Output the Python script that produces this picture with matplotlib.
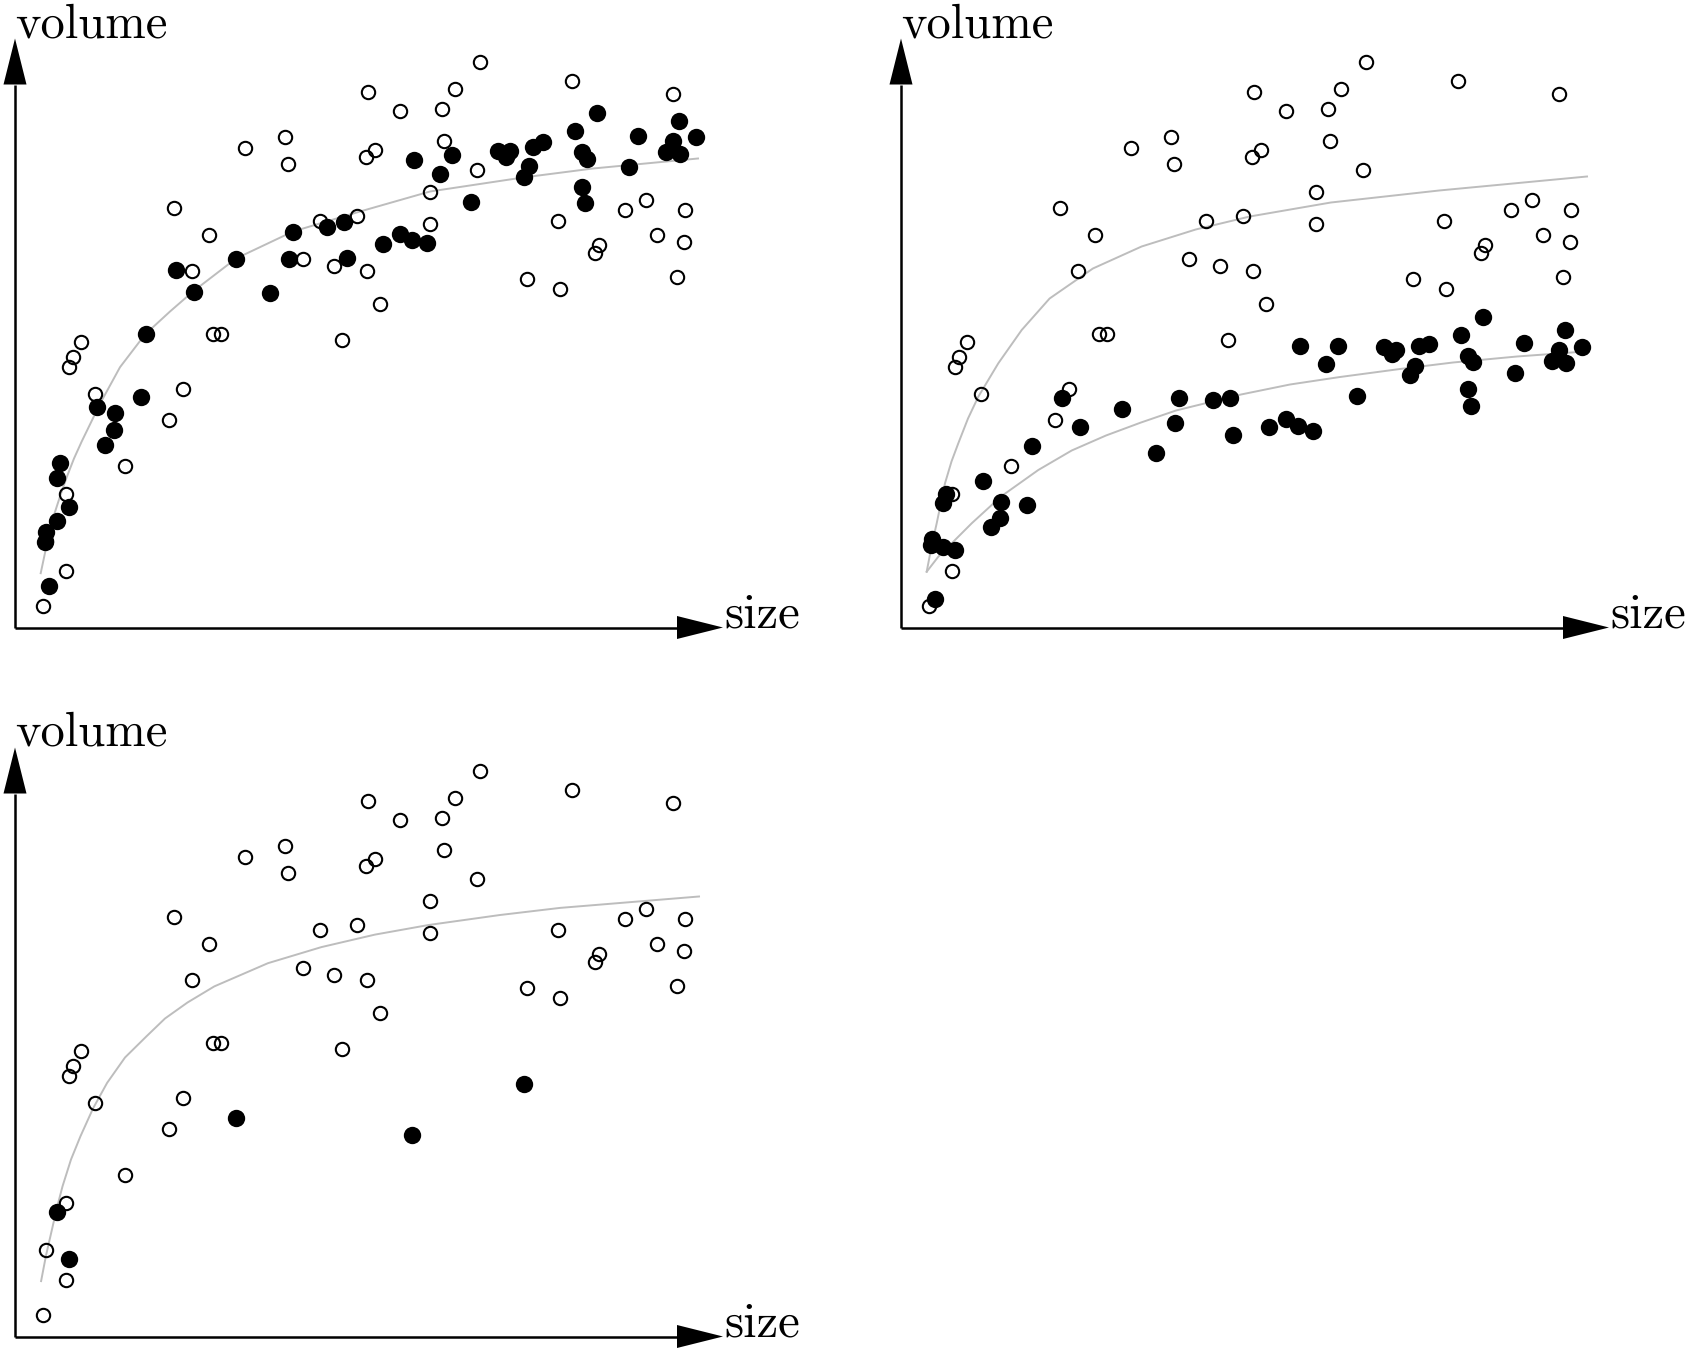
"""Three scatter panels of volume against size: open and filled samples with grey fitted curves."""
import matplotlib
matplotlib.use("Agg")
import matplotlib.pyplot as plt
from matplotlib.patches import Polygon

FIG_W, FIG_H = 1688, 1350          # pixels at dpi 100
X_LEN, Y_LEN = 708, 589            # axis lengths (data units == pixels)
HEAD_LEN, HEAD_W = 46, 23
FONT = "cmr10"
FS = 35
CURVE_COLOR = "#bdbdbd"

# panel origins, pixels from the top-left corner of the figure
ORIGINS = {"top_left": (15, 627.5), "top_right": (901, 627.5), "bottom_left": (15, 1336.5)}

# open circles (same in every panel)
open_size = [27.5, 50.6, 50.6, 109.8, 153.7, 167.8, 80, 54, 57.8, 65.8, 197.5, 205.7,
             326.7, 158.8, 194.3, 177.3, 230, 270, 273, 305, 288, 319, 341.5, 352.5,
             384.5, 350.5, 359.5, 351.5, 365.3, 414.8, 414.8, 426.5, 440, 428.5, 464.7,
             461.7, 512, 543, 545, 557, 580, 584, 609.5, 630.5, 641.5, 658.3, 661.5,
             668.5, 670, 31.4]
open_volume = [21.5, 57, 133.5, 161.5, 207.5, 238.5, 233.5, 261, 270.5, 285.5, 294, 294,
               287.5, 420, 392.5, 356.5, 480, 490.7, 463.7, 407, 368.5, 361.5, 411.5, 535.2,
               517, 471, 478, 356.7, 323.5, 403.7, 435.7, 519, 539, 487, 566,
               457.7, 349, 406.7, 338.7, 547, 375, 383, 417.5, 427.5, 392.7, 534, 350.5,
               386, 417.5, 86.5]

# filled circles: shared sizes, two sets of volumes
filled_size = [33.7, 30.4, 31, 41.5, 53.8, 41.5, 44.8, 81.8, 100.4, 98.8, 89.8, 125.8,
               131, 161.2, 179, 221.2, 255.2, 278.4, 273.5, 311.5, 328.8, 332, 367.5, 385.3,
               397, 412.3, 398.5, 424.8, 437, 455.5, 483.2, 491.3, 495, 508.5, 514.3, 517.7,
               528.2, 560.3, 567, 571.5, 567, 570, 581.8, 613.7, 623.2, 651.3, 658.2, 665.4,
               664.3, 681]
filled_volume_high = [41.5, 85.5, 96, 107, 121, 150, 164.5, 221, 214.7, 198, 182.5, 230.5,
                      293.7, 357.7, 335.5, 368.2, 334.5, 395.5, 368.2, 400.5, 405.5, 370, 383.5,
                      393.7, 387.5, 384.7, 467.7, 453.5, 473, 426, 477, 470.5, 477, 450.7,
                      461.5, 480.8, 485.5, 496.2, 475.3, 468.7, 441, 424.8, 515, 461, 492,
                      476, 486.7, 474, 507, 491]
filled_volume_low = [28.5, 82.2, 88.2, 80.8, 77.5, 124.2, 133.5, 146.8, 125.2, 109.2, 100.8,
                     122.5, 181.8, 229.8, 200.8, 218.8, 174.5, 229.8, 204.5, 227.8, 229.8,
                     192.5, 200.8, 208.8, 201.5, 196.5, 281.5, 263.8, 281.5, 231.5, 280.2,
                     273.2, 277.5, 252.2, 261.8, 281.8, 283.5, 292.5, 271.5, 265.5, 238.2,
                     221.8, 310.8, 254.5, 284.8, 266.8, 277.5, 264.2, 297.5, 280.5]
# the few filled points kept in the bottom panel (indices into the low set)
kept_idx = [5, 4, 15, 24, 33]

# fitted curves
fit_all_size = [25.7, 32, 38.3, 45, 51.7, 59, 66.7, 85, 105, 130, 155, 178, 221, 278, 345,
                415, 508, 578, 683]
fit_all_volume = [54.3, 84, 110.3, 131, 150.3, 169, 186, 223.7, 260.3, 293, 316, 336, 369,
                  396, 416, 436, 450, 459, 469]
fit_open_tr_size = [25.7, 30.5, 35.7, 44, 50.5, 57.3, 67, 77.3, 97.3, 120.7, 148.6, 191.9,
                    240.6, 294.7, 348.8, 429.9, 538.1, 686]
fit_open_tr_volume = [55.8, 81, 104.2, 144.2, 166, 184.2, 209, 230.8, 264.2, 297.5, 329, 359,
                      381, 398, 411, 425, 437, 451]
fit_low_size = [25.7, 37.3, 50.7, 70.7, 100, 137.3, 170.7, 205, 240, 275, 340, 389, 439,
                499, 552, 616, 684]
fit_low_volume = [55.8, 70.8, 84.2, 104.2, 131, 157.5, 177, 192, 205, 217, 233, 243, 250.5,
                  258.5, 265, 271, 276]
fit_bl_size = [26.1, 31, 36.5, 42, 47.5, 56, 65.4, 78, 92.1, 110, 131.4, 150, 172.5, 199.3,
               252.9, 306.4, 360, 413.6, 485, 545, 684]
fit_bl_volume = [55.4, 81, 105, 129, 150.1, 177, 200.1, 228, 253.6, 279, 300.1, 318, 334,
                 350.1, 373.3, 389.4, 401.9, 411.5, 421.5, 428.6, 440]


def make_panel(fig, origin):
    ox, oy = origin
    ax = fig.add_axes([ox / FIG_W, (FIG_H - oy) / FIG_H, X_LEN / FIG_W, Y_LEN / FIG_H])
    ax.set_xlim(0, X_LEN)
    ax.set_ylim(0, Y_LEN)
    ax.axis("off")

    # axis lines with solid triangular heads
    ax.plot([0, X_LEN - HEAD_LEN], [0, 0], color="black", lw=1.8, clip_on=False,
            solid_capstyle="butt", zorder=2)
    ax.plot([0, 0], [0, Y_LEN - HEAD_LEN], color="black", lw=1.8, clip_on=False,
            solid_capstyle="butt", zorder=2)
    ax.add_patch(Polygon([[X_LEN - HEAD_LEN, -HEAD_W / 2], [X_LEN - HEAD_LEN, HEAD_W / 2],
                          [X_LEN, 0]], closed=True, color="black", lw=0, clip_on=False))
    ax.add_patch(Polygon([[-HEAD_W / 2, Y_LEN - HEAD_LEN], [HEAD_W / 2, Y_LEN - HEAD_LEN],
                          [0, Y_LEN]], closed=True, color="black", lw=0, clip_on=False))

    ax.text(0, Y_LEN + 1.5, "volume", fontfamily=FONT, fontsize=FS,
            ha="left", va="baseline")
    ax.text(X_LEN + 1, 0, "size", fontfamily=FONT, fontsize=FS,
            ha="left", va="baseline", clip_on=False)
    return ax


def draw_curve(ax, xs, ys):
    ax.plot(xs, ys, color=CURVE_COLOR, lw=1.4, zorder=1, clip_on=False,
            solid_joinstyle="round")


def draw_open(ax):
    ax.plot(open_size, open_volume, "o", ms=9.6, mfc="none", mec="black", mew=1.5,
            zorder=3, clip_on=False)


def draw_filled(ax, xs, ys):
    ax.plot(xs, ys, "o", ms=12.5, mfc="black", mec="black", mew=0, zorder=4,
            clip_on=False)


def main():
    fig = plt.figure(figsize=(FIG_W / 100, FIG_H / 100), dpi=100)

    ax = make_panel(fig, ORIGINS["top_left"])
    draw_curve(ax, fit_all_size, fit_all_volume)
    draw_open(ax)
    draw_filled(ax, filled_size, filled_volume_high)

    ax = make_panel(fig, ORIGINS["top_right"])
    draw_curve(ax, fit_open_tr_size, fit_open_tr_volume)
    draw_curve(ax, fit_low_size, fit_low_volume)
    draw_open(ax)
    draw_filled(ax, filled_size, filled_volume_low)

    ax = make_panel(fig, ORIGINS["bottom_left"])
    draw_curve(ax, fit_bl_size, fit_bl_volume)
    draw_open(ax)
    draw_filled(ax, [filled_size[i] for i in kept_idx],
                [filled_volume_low[i] for i in kept_idx])

    fig.savefig("out.png", dpi=100, facecolor="white")
    plt.close(fig)


if __name__ == "__main__":
    main()
